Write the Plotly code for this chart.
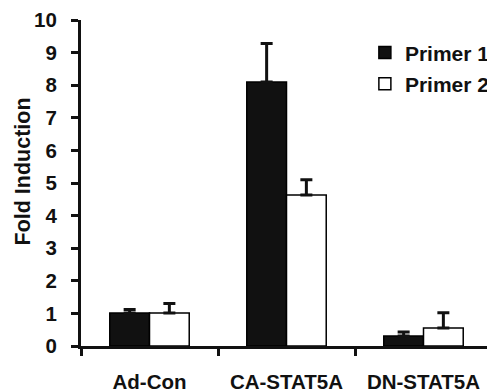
import plotly.graph_objects as go

categories = ["Ad-Con", "CA-STAT5A", "DN-STAT5A"]
primer1 = [1.01, 8.10, 0.31]
primer1_err = [0.11, 1.18, 0.12]
primer2 = [1.01, 4.63, 0.55]
primer2_err = [0.29, 0.47, 0.47]
yticks = list(range(0, 11))
y_title = "Fold Induction"

FONT = "Arial, Liberation Sans, sans-serif"

fig = go.Figure()
fig.add_trace(go.Bar(
    x=categories, y=primer1, name="Primer 1", legendgroup="p1",
    marker=dict(color="#111111", line=dict(color="black", width=1.5)),
    error_y=dict(type="data", array=primer1_err, arrayminus=[0]*3, symmetric=False,
                 color="#111111", thickness=3, width=6),
))
fig.add_trace(go.Bar(
    x=categories, y=primer2, name="Primer 2", legendgroup="p2",
    marker=dict(color="white", line=dict(color="black", width=1.5)),
    error_y=dict(type="data", array=primer2_err, arrayminus=[0]*3, symmetric=False,
                 color="#111111", thickness=3, width=6),
))

# page body has an 8px default margin, so the figure is sized to fit the window
fig.update_layout(
    width=487, height=381,
    margin=dict(l=73, r=3, t=12, b=43, autoexpand=False),
    paper_bgcolor="white", plot_bgcolor="white",
    barmode="group", bargap=0.42, bargroupgap=0,
    font=dict(family=FONT, color="#111111"),
    legend=dict(x=1.007, y=0.962, xanchor="right", yanchor="top",
                font=dict(size=21, weight="bold", family=FONT),
                bgcolor="rgba(0,0,0,0)", itemwidth=30, tracegroupgap=1,
                traceorder="grouped"),
    showlegend=True,
    annotations=[dict(text=y_title, textangle=-90, xref="paper", yref="paper",
                      x=-0.1411, y=0.5353, xanchor="center", yanchor="middle",
                      showarrow=False,
                      font=dict(size=21.5, weight="bold", family=FONT, color="#111111"))],
)
fig.update_xaxes(
    type="category", tickson="boundaries", ticks="outside", ticklen=7, tickwidth=3,
    tickcolor="#111111", showline=True, linecolor="#111111", linewidth=3,
    tickfont=dict(size=20.5, weight="bold", family=FONT), showgrid=False,
    range=[-0.5, 2.5], ticklabelstandoff=15, automargin=False,
)
fig.update_yaxes(
    range=[0, 10], tickvals=yticks, ticks="outside", ticklen=7, tickwidth=3,
    tickcolor="#111111", showline=True, linecolor="#111111", linewidth=3,
    tickfont=dict(size=20.5, weight="bold", family=FONT), showgrid=False, zeroline=False,
    ticklabelstandoff=10, automargin=False,
)

fig.write_html("out.html")
